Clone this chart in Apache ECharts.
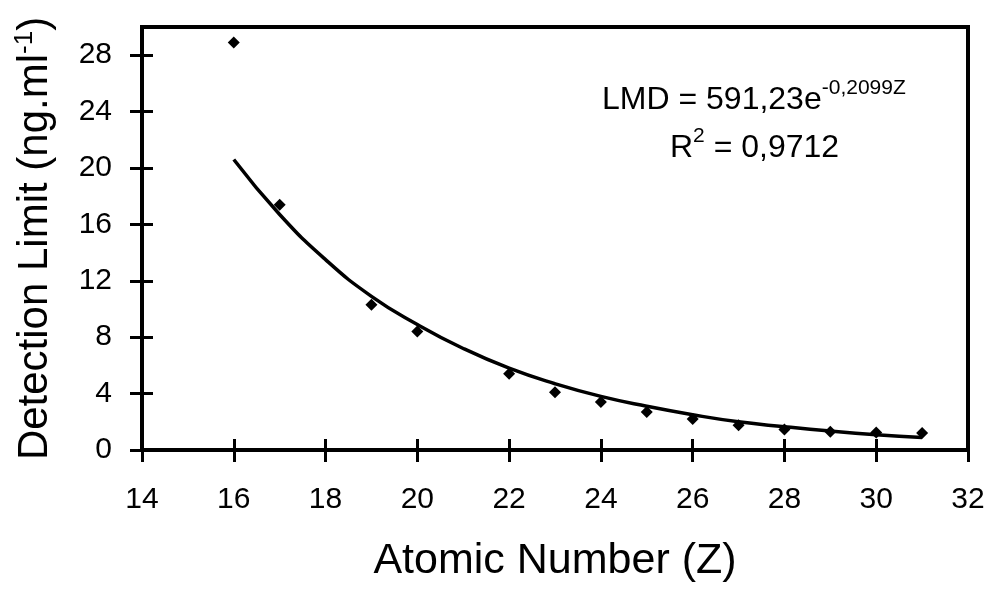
<!DOCTYPE html>
<html>
<head>
<meta charset="utf-8">
<script src="https://cdn.jsdelivr.net/npm/echarts@6/dist/echarts.min.js"></script>
<style>
  * { margin: 0; padding: 0; }
  body { background: #fff; }
</style>
</head>
<body>
<div id="chartBox" style="width: 992px; height: 592px"></div>
<script>
// measured points (atomic number vs detection limit)
const atomicNumbers = [16, 17, 19, 20, 22, 23, 24, 25, 26, 27, 28, 29, 30, 31];
const detectionLimits = [28.9, 17.4, 10.3, 8.4, 5.4, 4.1, 3.4, 2.7, 2.2, 1.75, 1.45, 1.3, 1.25, 1.2];
// trend curve
const fitZ = [16, 17, 18, 19, 20, 21, 22, 23, 24, 25, 26, 27, 28, 29, 30, 31];
const fitValues = [20.6, 16.7, 13.5, 10.9, 8.9, 7.2, 5.8, 4.7, 3.8, 3.1, 2.5, 2.0, 1.65, 1.34, 1.08, 0.88];
const xTicks = [14, 32, 2]; // min, max, step
const yTicks = [0, 30, 4];

const font = "'Liberation Sans', Arial, sans-serif";
const chart = echarts.init(document.getElementById("chartBox"));

const baseX = {
  type: "value",
  min: xTicks[0],
  max: xTicks[1],
  interval: xTicks[2],
  splitLine: { show: false },
};
const baseY = {
  type: "value",
  min: yTicks[0],
  max: yTicks[1],
  interval: yTicks[2],
  splitLine: { show: false },
};

const option = {
  backgroundColor: "#fff",
  animation: false,
  grid: {
    left: 142,
    right: 24,
    top: 27,
    bottom: 142,
    show: true,
    borderColor: "#000",
    borderWidth: 4,
  },
  xAxis: [
    Object.assign({}, baseX, {
      name: "Atomic Number (Z)",
      nameLocation: "middle",
      nameGap: 90,
      nameTextStyle: { fontFamily: font, fontSize: 43, color: "#000" },
      axisLine: { lineStyle: { color: "#000", width: 4 } },
      axisTick: { inside: false, length: 12, lineStyle: { color: "#000", width: 3 } },
      axisLabel: { margin: 35, fontFamily: font, fontSize: 30, color: "#000" },
    }),
    // second copy only for the inner half of the crossing ticks
    Object.assign({}, baseX, {
      position: "bottom",
      axisLine: { show: false },
      axisTick: { inside: true, length: 11, lineStyle: { color: "#000", width: 3 } },
      axisLabel: { show: false },
    }),
  ],
  yAxis: [
    Object.assign({}, baseY, {
      name: "{a|Detection Limit (ng.ml}{s|-1}{a|)}",
      nameLocation: "middle",
      nameGap: 84,
      nameTextStyle: {
        color: "#000",
        rich: {
          a: { fontFamily: font, fontSize: 42, color: "#000", lineHeight: 46 },
          s: { fontFamily: font, fontSize: 26, color: "#000", verticalAlign: "top", lineHeight: 46 },
        },
      },
      axisLine: { lineStyle: { color: "#000", width: 4 } },
      axisTick: { inside: false, length: 12, lineStyle: { color: "#000", width: 3 } },
      axisLabel: { margin: 30, fontFamily: font, fontSize: 30, color: "#000", showMaxLabel: false },
    }),
    Object.assign({}, baseY, {
      position: "left",
      axisLine: { show: false },
      axisTick: { inside: true, length: 11, lineStyle: { color: "#000", width: 3 } },
      axisLabel: { show: false },
    }),
  ],
  graphic: [
    {
      type: "text",
      left: 602,
      top: 78,
      style: {
        text: "{m|LMD = 591,23e}{s|-0,2099Z}",
        rich: {
          m: { fontFamily: font, fontSize: 32, fill: "#000", lineHeight: 38, verticalAlign: "bottom" },
          s: { fontFamily: font, fontSize: 21, fill: "#000", lineHeight: 38, verticalAlign: "top" },
        },
      },
    },
    {
      type: "text",
      left: 670,
      top: 126,
      style: {
        text: "{m|R}{s|2}{m| = 0,9712}",
        rich: {
          m: { fontFamily: font, fontSize: 32, fill: "#000", lineHeight: 38, verticalAlign: "bottom" },
          s: { fontFamily: font, fontSize: 21, fill: "#000", lineHeight: 38, verticalAlign: "top" },
        },
      },
    },
  ],
  series: [
    {
      name: "fit",
      type: "line",
      smooth: true,
      showSymbol: false,
      data: fitZ.map((z, i) => [z, fitValues[i]]),
      lineStyle: { color: "#000", width: 3.5 },
      z: 2,
    },
    {
      name: "LMD",
      type: "scatter",
      symbol: "diamond",
      symbolSize: 12,
      data: atomicNumbers.map((z, i) => [z, detectionLimits[i]]),
      itemStyle: { color: "#000", opacity: 1 },
      z: 3,
    },
  ],
};

chart.setOption(option);
</script>
</body>
</html>
